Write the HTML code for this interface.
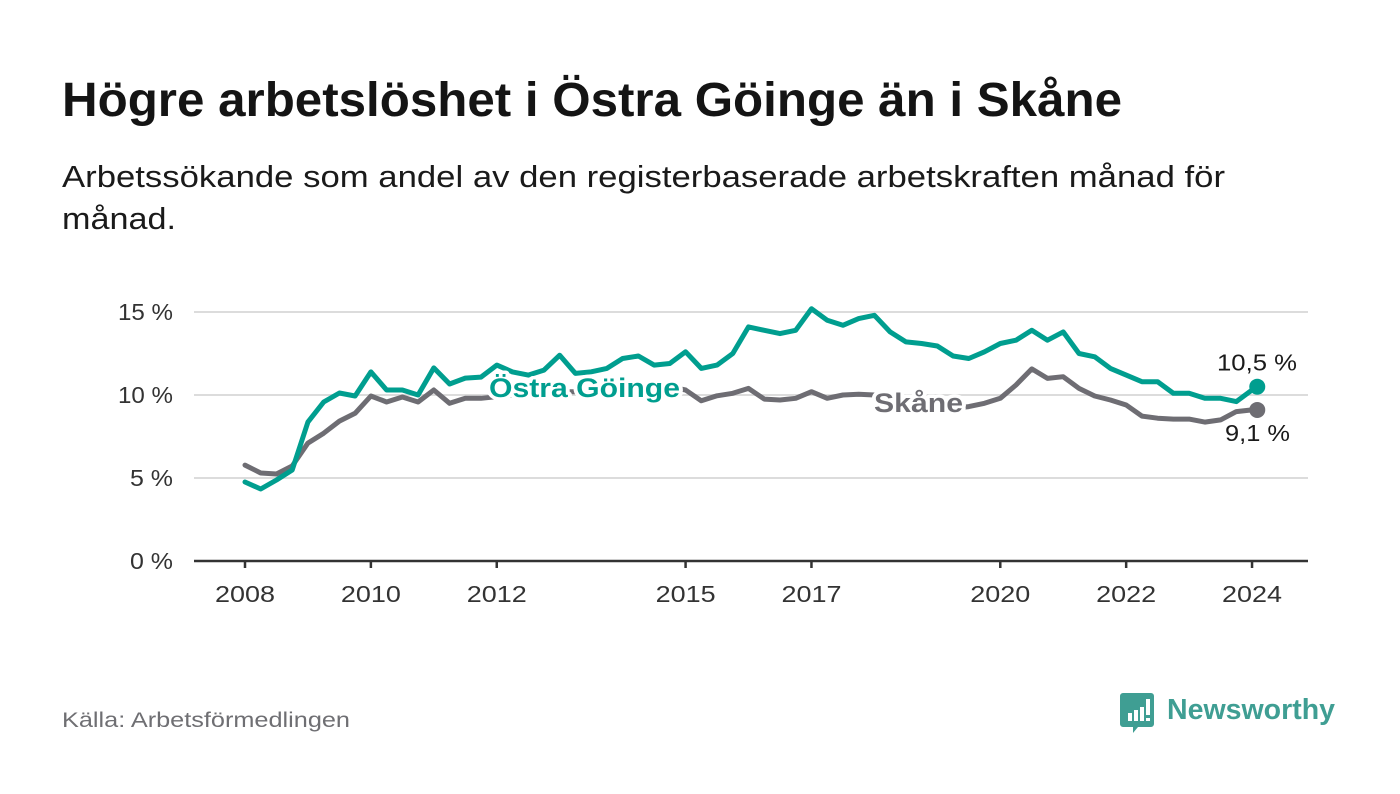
<!DOCTYPE html>
<html><head><meta charset="utf-8"><style>
body{margin:0;background:#fff;}
svg{display:block;font-family:"Liberation Sans",sans-serif;}
</style></head><body>
<svg id="chart" width="1400" height="794" viewBox="0 0 1400 794">
<rect width="1400" height="794" fill="#fff"/>
<text x="62" y="116" font-size="48" font-weight="bold" fill="#141414" textLength="1060" lengthAdjust="spacingAndGlyphs">Högre arbetslöshet i Östra Göinge än i Skåne</text>
<text x="62" y="187" font-size="31" fill="#1a1a1a" textLength="1163" lengthAdjust="spacingAndGlyphs">Arbetssökande som andel av den registerbaserade arbetskraften månad för</text>
<text x="62" y="229" font-size="31" fill="#1a1a1a" textLength="114" lengthAdjust="spacingAndGlyphs">månad.</text>
<g id="grid"></g>
<g id="yaxis"></g>
<g id="xaxis"></g>
<g id="series"></g>
<g id="labels"></g>
<text x="62" y="727" font-size="21" fill="#6f6f73" textLength="288" lengthAdjust="spacingAndGlyphs">Källa: Arbetsförmedlingen</text>
<g>
<path d="M1123 693 h28 a3 3 0 0 1 3 3 v28 a3 3 0 0 1 -3 3 h-13 l-5 6 v-6 h-10 a3 3 0 0 1 -3 -3 v-28 a3 3 0 0 1 3 -3z" fill="#3f9e93"/>
<rect x="1128" y="713" width="4" height="8" fill="#fff"/><rect x="1134" y="710" width="4" height="11" fill="#fff"/><rect x="1140" y="707" width="4" height="14" fill="#fff"/><rect x="1146" y="699" width="4" height="16" fill="#fff"/><rect x="1146" y="718" width="4" height="3" fill="#fff"/>
<text x="1167" y="719" font-size="29" font-weight="bold" fill="#3f9e93" textLength="168" lengthAdjust="spacingAndGlyphs">Newsworthy</text>
</g>
</svg>
<script>
const dates=[2008,2008.25,2008.5,2008.75,2009,2009.25,2009.5,2009.75,2010,2010.25,2010.5,2010.75,2011,2011.25,2011.5,2011.75,2012,2012.25,2012.5,2012.75,2013,2013.25,2013.5,2013.75,2014,2014.25,2014.5,2014.75,2015,2015.25,2015.5,2015.75,2016,2016.25,2016.5,2016.75,2017,2017.25,2017.5,2017.75,2018,2018.25,2018.5,2018.75,2019,2019.25,2019.5,2019.75,2020,2020.25,2020.5,2020.75,2021,2021.25,2021.5,2021.75,2022,2022.25,2022.5,2022.75,2023,2023.25,2023.5,2023.75,2024,2024.083];
const ostraGoinge=[4.76,4.34,4.88,5.48,8.37,9.58,10.12,9.94,11.39,10.3,10.3,10.0,11.63,10.66,11.02,11.08,11.8,11.39,11.2,11.5,12.4,11.3,11.4,11.6,12.2,12.35,11.8,11.9,12.6,11.6,11.8,12.5,14.1,13.9,13.7,13.9,15.2,14.5,14.2,14.6,14.8,13.8,13.2,13.1,12.95,12.35,12.2,12.6,13.1,13.3,13.9,13.3,13.8,12.5,12.3,11.6,11.2,10.8,10.8,10.1,10.1,9.8,9.8,9.6,10.3,10.5];
const skane=[5.78,5.3,5.24,5.72,7.1,7.7,8.43,8.9,9.94,9.58,9.88,9.58,10.3,9.5,9.8,9.8,9.9,10.0,10.2,10.3,10.2,10.2,10.3,10.3,10.4,10.5,10.5,10.5,10.3,9.65,9.95,10.1,10.4,9.75,9.7,9.8,10.2,9.8,10.0,10.05,10.0,9.8,9.7,9.6,9.4,9.2,9.3,9.5,9.8,10.6,11.57,11.0,11.1,10.4,9.94,9.7,9.4,8.73,8.6,8.55,8.55,8.37,8.5,9.0,9.1,9.1];
const yTicks=[0,5,10,15];
const yTickLabels=["0 %","5 %","10 %","15 %"];
const xTicks=[2008,2010,2012,2015,2017,2020,2022,2024];
const xTickLabels=["2008","2010","2012","2015","2017","2020","2022","2024"];
const ostraLabel="10,5 %", skaneLabel="9,1 %";

const NS="http://www.w3.org/2000/svg";
const X=t=>245+(t-2008)*62.94;
const Y=v=>561-v*16.6;
function mk(tag,attrs,parent,text){const e=document.createElementNS(NS,tag);for(const k in attrs)e.setAttribute(k,attrs[k]);if(text!==undefined)e.textContent=text;parent.appendChild(e);return e;}
const grid=document.getElementById('grid'),ya=document.getElementById('yaxis'),xa=document.getElementById('xaxis'),ser=document.getElementById('series'),lab=document.getElementById('labels');
yTicks.forEach((v,i)=>{
  if(v>0){const g=mk('line',{x1:194,x2:1308,y1:Y(v),y2:Y(v),stroke:'#dcdcdc','stroke-width':2},grid);
  
  }
  const w=yTickLabels[i].length>3?55:43;
  const t=mk('text',{x:173-w,y:Y(v)+8,'font-size':23,fill:'#333',textLength:w,lengthAdjust:'spacingAndGlyphs'},ya,yTickLabels[i]);
  
  
});
const ax=mk('line',{x1:194,x2:1308,y1:561,y2:561,stroke:'#333','stroke-width':2.5},xa);


xTicks.forEach((t,i)=>{
  const tk=mk('line',{x1:X(t),x2:X(t),y1:561,y2:568,stroke:'#333','stroke-width':2.5},xa);
  
  
  const l=mk('text',{x:X(t)-30,y:602,'font-size':23,fill:'#333',textLength:60,lengthAdjust:'spacingAndGlyphs'},xa,xTickLabels[i]);
  
  
});
function line(vals,color,name){
  const d=vals.map((v,i)=>(i?'L':'M')+X(dates[i]).toFixed(1)+' '+Y(v).toFixed(1)).join(' ');
  const p=mk('path',{d:d,fill:'none',stroke:color,'stroke-width':5,'stroke-linejoin':'round','stroke-linecap':'round'},ser);
  
  
  const n=vals.length-1;
  const c=mk('circle',{cx:X(dates[n]),cy:Y(vals[n]),r:8,fill:color},ser);
  
  
}
line(skane,'#6e6d73','skane');
line(ostraGoinge,'#009e8f','ostra-goinge');
const halo={stroke:'#fff','stroke-width':7,'paint-order':'stroke','stroke-linejoin':'round'};
function label(txt,x,y,size,color,bold,name,len){
  const a=Object.assign({x:x,y:y,'font-size':size,fill:color},halo);
  if(bold)a['font-weight']='bold';
  if(len){a.textLength=len;a.lengthAdjust='spacingAndGlyphs';}
  const t=mk('text',a,lab,txt);
  
  
}
label('Östra Göinge',489,397,27,'#009e8f',true,'ostra-goinge-label',191);
label('Skåne',874,412,27,'#6e6d73',true,'skane-label',89);
const n=dates.length-1;
label(ostraLabel,1217,Y(ostraGoinge[n])-16,23,'#1a1a1a',false,'ostra-goinge-value-label',80);
label(skaneLabel,1225,Y(skane[n])+31,23,'#1a1a1a',false,'skane-value-label',65);
</script>
</body></html>
